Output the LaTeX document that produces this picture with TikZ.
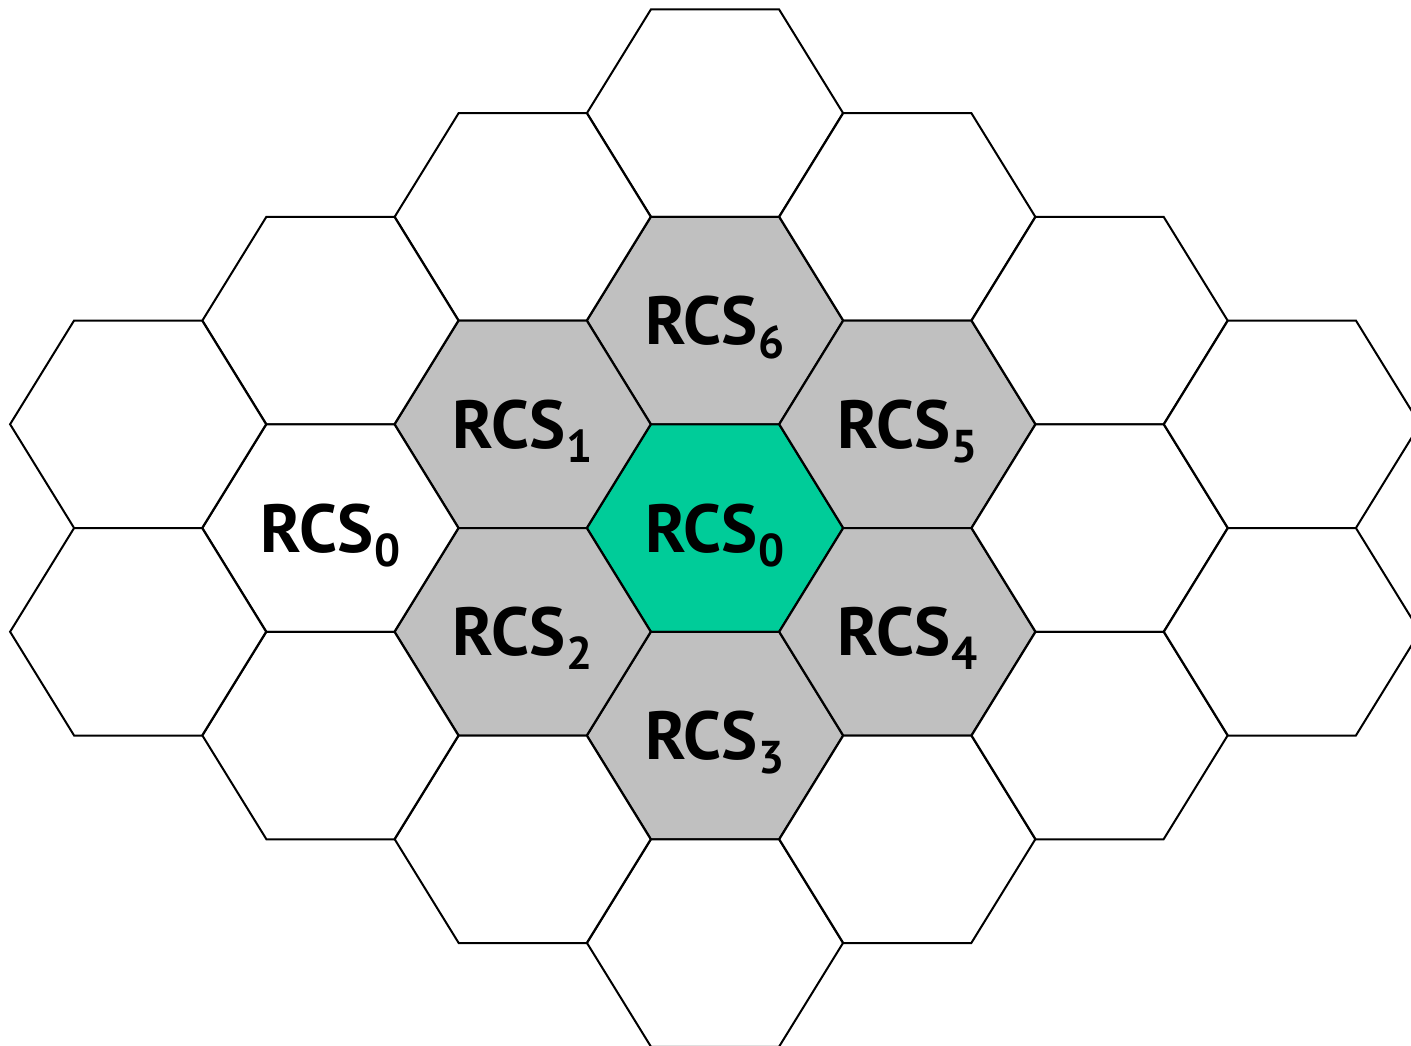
\documentclass[tikz,border=0pt]{standalone}
\usepackage{fontspec}
\setmainfont{PT Sans}
\definecolor{cellgreen}{RGB}{0,204,153}
\definecolor{cellgray}{RGB}{192,192,192}
\newcommand{\rcslabel}[1]{RCS\kern1pt\raisebox{-14pt}{\fontsize{46}{46}\selectfont #1}}
\begin{document}
\begin{tikzpicture}[x=1pt,y=-1pt,
  hexcell/.style={draw=black,line width=2pt,line join=miter},
  lbl/.style={font=\fontsize{68}{68}\selectfont\bfseries, anchor=base, inner sep=0pt}]
\useasboundingbox (0,0) rectangle (1411,1045);
\clip (0,0) rectangle (1411,1045);
\foreach \k/\m/\c in {
  0/-4/white, 0/-2/cellgray, 0/0/cellgreen, 0/2/cellgray, 0/4/white,
  -1/-3/white, -1/-1/cellgray, -1/1/cellgray, -1/3/white,
  1/-3/white, 1/-1/cellgray, 1/1/cellgray, 1/3/white,
  -2/-2/white, -2/0/white, -2/2/white,
  2/-2/white, 2/0/white, 2/2/white,
  -3/-1/white, -3/1/white,
  3/-1/white, 3/1/white}{
  \pgfmathsetmacro\cx{715+192.3*\k}
  \pgfmathsetmacro\cy{528+103.75*\m}
  \draw[hexcell,fill=\c] (\cx-128,\cy) -- (\cx-64,\cy-103.75) -- (\cx+64,\cy-103.75)
    -- (\cx+128,\cy) -- (\cx+64,\cy+103.75) -- (\cx-64,\cy+103.75) -- cycle;
}
\node[lbl] (c0) at (715,552) {\rcslabel{0}};
\node[lbl] (c6) at (715,344.5) {\rcslabel{6}};
\node[lbl] (c3) at (715,759.5) {\rcslabel{3}};
\node[lbl] (c1) at (522.7,448.25) {\rcslabel{1}};
\node[lbl] (c2) at (522.7,655.75) {\rcslabel{2}};
\node[lbl] (c5) at (907.3,448.25) {\rcslabel{5}};
\node[lbl] (c4) at (907.3,655.75) {\rcslabel{4}};
\node[lbl] (w0) at (330.4,552) {\rcslabel{0}};
\end{tikzpicture}
\end{document}
